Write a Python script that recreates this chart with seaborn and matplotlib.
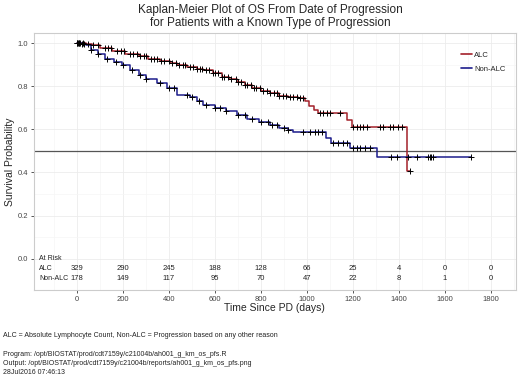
import numpy as np
import pandas as pd
import seaborn as sns
import matplotlib.pyplot as plt

# Kaplan-Meier step points (time in days, survival after the step)
alc_times = [0, 40, 65, 100, 152, 210, 268, 310, 360, 404, 433, 480, 520, 549, 590, 630,
             660, 694, 730, 760, 800, 839, 880, 920, 960, 990, 1010, 1030, 1050, 1175, 1195,
             1436, 1448]
alc_surv = [1.0, 0.995, 0.99, 0.978, 0.964, 0.95, 0.938, 0.928, 0.918, 0.906, 0.898, 0.89,
            0.882, 0.875, 0.86, 0.845, 0.835, 0.821, 0.805, 0.79, 0.778, 0.767, 0.757, 0.75,
            0.745, 0.73, 0.71, 0.69, 0.675, 0.645, 0.612, 0.405, 0.405]

nonalc_times = [0, 20, 40, 60, 90, 123, 160, 196, 230, 268, 300, 346, 390, 433, 491, 520,
                549, 600, 650, 694, 740, 790, 839, 880, 920, 940, 1083, 1107, 1187, 1303, 1716]
nonalc_surv = [1.0, 0.995, 0.99, 0.97, 0.95, 0.927, 0.912, 0.90, 0.875, 0.853, 0.835, 0.815,
               0.79, 0.76, 0.751, 0.73, 0.713, 0.70, 0.685, 0.667, 0.65, 0.635, 0.62, 0.605,
               0.595, 0.586, 0.56, 0.539, 0.512, 0.474, 0.474]

# censoring times
alc_cens = [0, 5, 10, 15, 25, 50, 70, 90, 120, 135, 150, 175, 190, 205, 230, 245, 260, 275,
            290, 300, 320, 335, 350, 365, 380, 400, 415, 430, 445, 460, 470, 490, 505, 520,
            535, 545, 560, 575, 590, 600, 615, 630, 640, 655, 670, 690, 700, 715, 730, 740,
            755, 770, 780, 795, 810, 825, 840, 855, 870, 880, 895, 910, 925, 940, 955, 970,
            985, 1057, 1070, 1087, 1100, 1143, 1200, 1217, 1230, 1243, 1261, 1317, 1330,
            1361, 1374, 1396, 1413, 1448]
nonalc_cens = [0, 10, 20, 30, 60, 90, 130, 170, 200, 240, 275, 300, 360, 400, 420, 480, 500,
               530, 560, 600, 620, 650, 700, 730, 760, 800, 830, 850, 870, 900, 920, 983,
               1013, 1035, 1048, 1065, 1113, 1135, 1157, 1174, 1200, 1217, 1230, 1252, 1274,
               1368, 1390, 1440, 1477, 1526, 1535, 1541, 1548, 1716]

risk_times = [0, 200, 400, 600, 800, 1000, 1200, 1400, 1600, 1800]
risk_alc = [329, 290, 245, 188, 128, 66, 25, 4, 0, 0]
risk_nonalc = [178, 149, 117, 95, 70, 47, 22, 8, 1, 0]

groups = ["ALC", "Non-ALC"]
colors = {"ALC": "#a3202a", "Non-ALC": "#1c1c8c"}


def cens_surv(times, surv, cens):
    idx = np.searchsorted(times, cens, side="right") - 1
    return np.asarray(surv)[idx]


curves = pd.DataFrame({
    "Time": alc_times + nonalc_times,
    "Survival": alc_surv + nonalc_surv,
    "Group": ["ALC"] * len(alc_times) + ["Non-ALC"] * len(nonalc_times),
})
marks = pd.DataFrame({
    "Time": alc_cens + nonalc_cens,
    "Survival": np.concatenate([cens_surv(alc_times, alc_surv, alc_cens),
                                cens_surv(nonalc_times, nonalc_surv, nonalc_cens)]),
})

sns.set_theme(style="whitegrid")
plt.rcParams["font.family"] = ["Liberation Sans", "DejaVu Sans"]

fig = plt.figure(figsize=(5.2, 3.77), dpi=100)
ax = fig.add_axes([0.0654, 0.2308, 0.9266, 0.6817])

sns.lineplot(data=curves, x="Time", y="Survival", hue="Group", hue_order=groups,
             palette=colors, estimator=None, drawstyle="steps-post", linewidth=1.1, ax=ax)
sns.scatterplot(data=marks, x="Time", y="Survival", marker="+", color="black",
                s=14, linewidth=0.7, ax=ax, zorder=3)
ax.axhline(0.5, color="#555555", linewidth=0.9, zorder=1)

# at-risk table inside the panel
ax.text(-165, 0.0, "At Risk", fontsize=5, va="center", ha="left", color="#222222")
ax.text(-165, -0.046, "ALC", fontsize=5, va="center", ha="left", color="#222222")
ax.text(-165, -0.093, "Non-ALC", fontsize=5, va="center", ha="left", color="#222222")
for t, a, n in zip(risk_times, risk_alc, risk_nonalc):
    ax.text(t, -0.046, str(a), fontsize=5.5, va="center", ha="center", color="#222222")
    ax.text(t, -0.093, str(n), fontsize=5.5, va="center", ha="center", color="#222222")

ax.set_xlim(-187, 1909)
ax.set_ylim(-0.145, 1.047)
ax.set_xticks(risk_times)
ax.set_yticks([0.0, 0.2, 0.4, 0.6, 0.8, 1.0])
ax.set_yticklabels(["0.0", "0.2", "0.4", "0.6", "0.8", "1.0"])
ax.set_xticks(np.arange(-100, 1901, 200), minor=True)
ax.set_yticks(np.arange(0.1, 1.0, 0.2), minor=True)
ax.grid(which="major", color="#ececec", linewidth=0.6)
ax.grid(which="minor", color="#f6f6f6", linewidth=0.5)
ax.tick_params(axis="both", which="major", labelsize=5.5, length=2.5, width=0.7,
               color="#555555", labelcolor="#444444", pad=1.5, left=True, bottom=True)
ax.tick_params(which="minor", length=0)
for s in ax.spines.values():
    s.set_color("#cccccc")
    s.set_linewidth(0.8)

ax.set_xlabel("Time Since PD (days)", fontsize=7.5, labelpad=0.5)
ax.set_ylabel("Survival Probability", fontsize=7.5, labelpad=2)

leg = ax.legend(loc="upper left", bbox_to_anchor=(0.872, 0.955), fontsize=5.5,
                frameon=False, handlelength=1.4, handletextpad=0.3, labelspacing=0.9)
for h in leg.get_lines():
    h.set_linewidth(1.2)

fig.text(0.52, 0.973, "Kaplan-Meier Plot of OS From Date of Progression",
         ha="center", va="center", fontsize=8.5)
fig.text(0.52, 0.938, "for Patients with a Known Type of Progression",
         ha="center", va="center", fontsize=8.5)

fig.text(0.005, 0.111, "ALC = Absolute Lymphocyte Count, Non-ALC = Progression based on any other reason",
         fontsize=5, va="center", ha="left", color="#222222")
fig.text(0.005, 0.061, "Program: /opt/BIOSTAT/prod/cdt7159y/c21004b/ah001_g_km_os_pfs.R",
         fontsize=5, va="center", ha="left", color="#222222")
fig.text(0.005, 0.037, "Output: /opt/BIOSTAT/prod/cdt7159y/c21004b/reports/ah001_g_km_os_pfs.png",
         fontsize=5, va="center", ha="left", color="#222222")
fig.text(0.005, 0.011, "28Jul2016 07:46:13",
         fontsize=5, va="center", ha="left", color="#222222")

fig.savefig("out.png", dpi=100)
